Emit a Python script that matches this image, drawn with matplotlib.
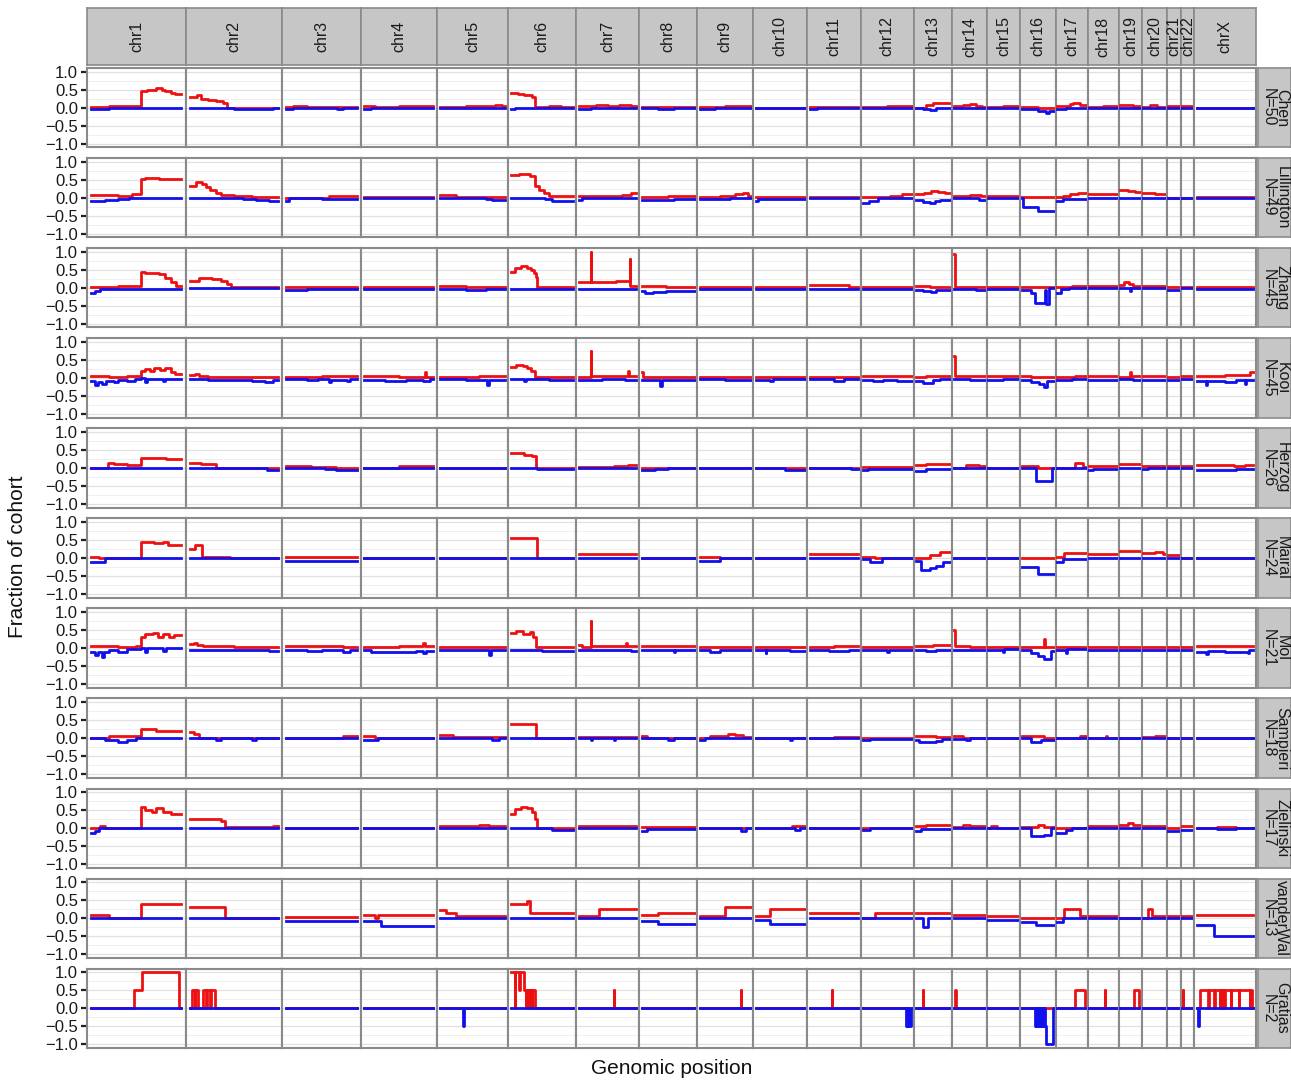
import matplotlib
matplotlib.use("Agg")
import matplotlib.pyplot as plt
from matplotlib.gridspec import GridSpec

plt.rcParams['font.family'] = ['Liberation Sans', 'DejaVu Sans']

# ---------------- data ----------------
CHROMS = ["chr1", "chr2", "chr3", "chr4", "chr5", "chr6", "chr7", "chr8", "chr9", "chr10",
          "chr11", "chr12", "chr13", "chr14", "chr15", "chr16", "chr17", "chr18", "chr19",
          "chr20", "chr21", "chr22", "chrX"]
# covered span of each chromosome (Mb) -> panel widths
CHROM_SPAN_MB = [249, 243, 198, 191, 181, 171, 159, 146, 141, 136, 135, 134, 96, 88, 83, 90,
                 81, 78, 59, 63, 34, 35, 155]

COHORTS = ["Chen", "Lillington", "Zhang", "Kooi", "Herzog", "Mairal", "Mol", "Sampieri",
           "Zielinski", "vanderWal", "Gratias"]
COHORT_N = [50, 49, 45, 45, 26, 24, 21, 18, 17, 13, 2]

# steps: (relative position within chromosome, fraction of cohort) ; unlisted chromosomes are 0
chen_gain = {
    "chr1": [(0, .03), (.2, .05), (.3, .04), (.55, .45), (.62, .5), (.72, .55), (.78, .5), (.82, .45), (.88, .4), (.93, .38)],
    "chr2": [(0, .3), (.08, .35), (.12, .25), (.2, .22), (.3, .18), (.38, .13), (.42, 0)],
    "chr3": [(0, .03), (.1, .06), (.3, .02), (.6, .03)],
    "chr4": [(0, .05), (.15, .03), (.5, .04), (.8, .05)],
    "chr5": [(0, .02), (.4, .04), (.7, .05), (.85, .08), (.95, .04)],
    "chr6": [(0, .42), (.1, .38), (.2, .35), (.33, .3), (.38, .02), (.6, .04), (.8, .03)],
    "chr7": [(0, .04), (.3, .07), (.5, .06), (.7, .08), (.9, .05)],
    "chr8": [(0, .01)],
    "chr9": [(0, .02), (.5, .04)],
    "chr11": [(0, .01), (.4, .03)],
    "chr12": [(0, .02), (.5, .04), (.8, .05)],
    "chr13": [(0, 0), (.3, .07), (.5, .12), (.8, .14)],
    "chr14": [(0, .04), (.3, .07), (.5, .09), (.7, .06), (.9, .03)],
    "chr15": [(0, .02), (.5, .04)],
    "chr16": [(0, .03), (.5, 0)],
    "chr17": [(0, .05), (.45, .1), (.55, .13), (.8, .07)],
    "chr18": [(0, .03), (.5, .04)],
    "chr19": [(0, .07), (.6, .05)],
    "chr20": [(0, .03), (.3, .07), (.6, .03)],
    "chr21": [(0, .04)],
    "chr22": [(0, .05)],
}
chen_loss = {
    "chr1": [(0, -.05), (.2, 0)],
    "chr2": [(0, 0), (.5, -.03), (.95, 0)],
    "chr3": [(0, -.03), (.1, 0), (.72, -.03), (.8, 0)],
    "chr4": [(0, -.03), (.1, 0)],
    "chr6": [(0, -.03), (.05, 0)],
    "chr7": [(0, -.03), (.2, 0)],
    "chr8": [(0, 0), (.3, -.03), (.6, 0)],
    "chr9": [(0, -.03), (.3, -.01)],
    "chr10": [(0, -.01)],
    "chr11": [(0, -.04), (.15, -.02)],
    "chr13": [(0, 0), (.2, -.05), (.4, -.07), (.6, -.02)],
    "chr16": [(0, -.03), (.5, -.08), (.75, -.14), (.85, -.08)],
    "chr17": [(0, -.05), (.3, 0)],
}

lillington_gain = {
    "chr1": [(0, .07), (.3, .06), (.45, .09), (.55, .52), (.6, .55), (.75, .53), (.85, .51)],
    "chr2": [(0, .33), (.07, .43), (.13, .38), (.18, .3), (.23, .22), (.3, .14), (.35, .08), (.5, .04), (.7, .03)],
    "chr3": [(0, 0), (.6, .04)],
    "chr4": [(0, .02), (.7, .03)],
    "chr5": [(0, .07), (.25, .03)],
    "chr6": [(0, .62), (.12, .66), (.3, .6), (.38, .32), (.45, .22), (.52, .12), (.6, .06), (.8, .04)],
    "chr7": [(0, .05), (.5, .06), (.75, .08), (.9, .12)],
    "chr8": [(0, .02), (.5, .04)],
    "chr9": [(0, .03), (.4, .05), (.7, .09), (.85, .13), (.95, .05)],
    "chr10": [(0, .02)],
    "chr11": [(0, .02)],
    "chr12": [(0, .02), (.55, .06), (.8, .1)],
    "chr13": [(0, .1), (.25, .14), (.45, .2), (.65, .17), (.85, .12)],
    "chr14": [(0, .05), (.5, .07), (.85, .05)],
    "chr15": [(0, .04), (.5, .05)],
    "chr16": [(0, .03), (.5, .02)],
    "chr17": [(0, .02), (.2, .06), (.45, .09), (.7, .12)],
    "chr18": [(0, .1)],
    "chr19": [(0, .22), (.4, .2), (.7, .15)],
    "chr20": [(0, .14), (.5, .1)],
    "chrX": [(0, .02)],
}
lillington_loss = {
    "chr1": [(0, -.1), (.15, -.07), (.3, -.03), (.42, 0)],
    "chr2": [(0, 0), (.6, -.04), (.75, -.07), (.85, -.05), (.9, -.08)],
    "chr3": [(0, -.08), (.05, -.02), (.5, -.04)],
    "chr4": [(0, -.02)],
    "chr5": [(0, 0), (.7, -.03), (.8, -.07)],
    "chr6": [(0, 0), (.55, -.04), (.65, -.08), (.75, -.1)],
    "chr7": [(0, -.07), (.05, -.02)],
    "chr8": [(0, -.05), (.6, -.03)],
    "chr9": [(0, -.04), (.6, -.02)],
    "chr10": [(0, -.08), (.05, -.03)],
    "chr11": [(0, -.02)],
    "chr12": [(0, -.15), (.12, -.08), (.3, -.02)],
    "chr13": [(0, -.05), (.2, -.12), (.4, -.15), (.55, -.1), (.7, -.05)],
    "chr14": [(0, -.02), (.8, -.07)],
    "chr16": [(0, 0), (.05, -.25), (.5, -.38)],
    "chr17": [(0, -.08), (.2, -.03)],
    "chrX": [(0, -.02)],
}

zhang_gain = {
    "chr1": [(0, .02), (.3, .04), (.55, .45), (.6, .4), (.75, .37), (.82, .28), (.88, .15), (.94, .06)],
    "chr2": [(0, .2), (.1, .27), (.25, .24), (.35, .2), (.42, .1), (.47, .02)],
    "chr3": [(0, .02)],
    "chr4": [(0, .01)],
    "chr5": [(0, .05), (.4, .03)],
    "chr6": [(0, .45), (.05, .55), (.15, .6), (.25, .55), (.32, .5), (.37, .42), (.4, .3), (.42, .02)],
    "chr7": [(0, .15), (.2, 1.0), (.215, .15), (.5, .16), (.65, .18), (.88, .8), (.895, .05)],
    "chr8": [(0, .05), (.45, .03)],
    "chr9": [(0, .02)],
    "chr10": [(0, .02)],
    "chr11": [(0, .07), (.3, .08), (.8, .03)],
    "chr12": [(0, .02)],
    "chr13": [(0, .05), (.4, .02)],
    "chr14": [(0, .95), (.03, .03)],
    "chr15": [(0, .02)],
    "chr16": [(0, .02)],
    "chr17": [(0, .02), (.5, .05)],
    "chr18": [(0, .05)],
    "chr19": [(0, .08), (.2, .15), (.45, .1), (.6, .04)],
    "chr20": [(0, .05)],
    "chr21": [(0, .02)],
    "chr22": [(0, .03)],
    "chrX": [(0, .02)],
}
zhang_loss = {
    "chr1": [(0, -.15), (.04, -.08), (.1, -.02)],
    "chr2": [(0, -.01)],
    "chr3": [(0, -.05), (.3, -.03), (.6, -.04)],
    "chr4": [(0, -.02)],
    "chr5": [(0, -.02), (.4, -.05), (.7, -.02)],
    "chr6": [(0, -.02), (.5, -.03)],
    "chr7": [(0, -.02)],
    "chr8": [(0, -.1), (.05, -.15), (.2, -.12), (.45, -.08)],
    "chr9": [(0, -.03)],
    "chr10": [(0, -.03)],
    "chr11": [(0, -.02)],
    "chr12": [(0, -.04)],
    "chr13": [(0, -.05), (.2, -.1), (.45, -.12), (.6, -.07)],
    "chr14": [(0, -.03), (.7, -.05)],
    "chr15": [(0, -.02)],
    "chr16": [(0, -.06), (.3, -.15), (.42, -.42), (.72, -.05), (.75, -.45), (.85, 0)],
    "chr17": [(0, -.15), (.15, -.04), (.4, 0)],
    "chr19": [(0, 0), (.5, -.08), (.52, 0)],
    "chr21": [(0, -.05)],
    "chrX": [(0, -.02)],
}

kooi_gain = {
    "chr1": [(0, .05), (.2, .03), (.4, .06), (.55, .18), (.6, .25), (.65, .2), (.7, .28), (.76, .22), (.82, .26), (.88, .15), (.93, .1)],
    "chr2": [(0, .08), (.06, .12), (.1, .05), (.2, .03)],
    "chr3": [(0, .03), (.5, .04)],
    "chr4": [(0, .04), (.5, .03), (.88, .15), (.9, .03)],
    "chr5": [(0, .03), (.6, .05)],
    "chr6": [(0, .3), (.08, .37), (.18, .32), (.25, .28), (.32, .18), (.38, .03)],
    "chr7": [(0, .03), (.2, .75), (.215, .04), (.6, .06), (.85, .2), (.865, .05)],
    "chr8": [(0, .15), (.02, .03)],
    "chr9": [(0, .03)],
    "chr10": [(0, .03)],
    "chr11": [(0, .03)],
    "chr12": [(0, .04), (.5, .06)],
    "chr13": [(0, .03), (.3, .06)],
    "chr14": [(0, .6), (.03, .06), (.5, .04)],
    "chr15": [(0, .05)],
    "chr16": [(0, .05), (.3, .02)],
    "chr17": [(0, .03), (.6, .06)],
    "chr18": [(0, .04)],
    "chr19": [(0, .03), (.5, .15), (.53, .04)],
    "chr20": [(0, .04)],
    "chr21": [(0, .03)],
    "chr22": [(0, .04)],
    "chrX": [(0, .05), (.5, .07), (.95, .15)],
}
kooi_loss = {
    "chr1": [(0, -.1), (.04, -.2), (.07, -.12), (.12, -.17), (.16, -.08), (.25, -.12), (.3, -.06), (.4, -.1), (.48, -.04), (.55, 0), (.6, -.12), (.62, -.02), (.8, -.08), (.82, -.02)],
    "chr2": [(0, -.04), (.2, -.06), (.5, -.05), (.7, -.08), (.85, -.12), (.95, -.06)],
    "chr3": [(0, -.04), (.3, -.07), (.45, -.04), (.6, -.12), (.63, -.05), (.85, -.1), (.9, -.04)],
    "chr4": [(0, -.05), (.3, -.08), (.6, -.05), (.85, -.1), (.95, -.04)],
    "chr5": [(0, -.04), (.4, -.06), (.72, -.2), (.75, -.05)],
    "chr6": [(0, -.02), (.2, -.1), (.23, -.03), (.6, -.05)],
    "chr7": [(0, -.06), (.4, -.03), (.8, -.05)],
    "chr8": [(0, -.05), (.35, -.22), (.38, -.05)],
    "chr9": [(0, -.03), (.5, -.06)],
    "chr10": [(0, -.05), (.3, -.09), (.35, -.04)],
    "chr11": [(0, -.04), (.5, -.08), (.7, -.03)],
    "chr12": [(0, -.05), (.2, -.1), (.4, -.06), (.7, -.09)],
    "chr13": [(0, -.1), (.2, -.13), (.5, -.07), (.7, -.04)],
    "chr14": [(0, -.03), (.5, -.05)],
    "chr15": [(0, -.05), (.5, -.03)],
    "chr16": [(0, -.05), (.3, -.12), (.55, -.18), (.7, -.26), (.8, -.1)],
    "chr17": [(0, -.06), (.5, -.04)],
    "chr18": [(0, -.05)],
    "chr19": [(0, -.04), (.6, -.07)],
    "chr20": [(0, -.05)],
    "chr21": [(0, -.06)],
    "chr22": [(0, -.04)],
    "chrX": [(0, -.1), (.15, -.2), (.18, -.08), (.5, -.12), (.7, -.05), (.85, -.18), (.87, -.05)],
}

herzog_gain = {
    "chr1": [(0, 0), (.18, .15), (.25, .1), (.4, .08), (.55, .28), (.83, .25)],
    "chr2": [(0, .15), (.12, .12), (.3, 0)],
    "chr3": [(0, .06), (.35, .03), (.7, 0)],
    "chr4": [(0, 0), (.5, .04)],
    "chr5": [(0, .01)],
    "chr6": [(0, .42), (.2, .37), (.33, .32), (.4, 0)],
    "chr7": [(0, .03), (.6, .06), (.85, .07)],
    "chr8": [(0, 0), (.4, .01)],
    "chr12": [(0, .02)],
    "chr13": [(0, .08), (.3, .11), (.9, .1)],
    "chr14": [(0, 0), (.4, .07), (.8, .04)],
    "chr16": [(0, .06), (.5, 0)],
    "chr17": [(0, 0), (.6, .15), (.9, .02)],
    "chr18": [(0, .05)],
    "chr19": [(0, .12)],
    "chr20": [(0, .05)],
    "chr21": [(0, .05)],
    "chr22": [(0, .06)],
    "chrX": [(0, .08), (.65, .04), (.85, .07)],
}
herzog_loss = {
    "chr2": [(0, 0), (.88, -.05)],
    "chr3": [(0, 0), (.55, -.03), (.7, -.06)],
    "chr6": [(0, 0), (.42, -.03)],
    "chr8": [(0, -.06), (.25, -.02), (.5, 0)],
    "chr10": [(0, 0), (.6, -.06)],
    "chr11": [(0, 0), (.85, -.04)],
    "chr12": [(0, -.06), (.1, -.02)],
    "chr13": [(0, -.08), (.3, -.04), (.6, -.02)],
    "chr16": [(0, 0), (.45, -.37), (.95, 0)],
    "chr18": [(0, -.07), (.15, -.02)],
    "chr20": [(0, -.04), (.2, 0)],
    "chrX": [(0, -.06), (.7, -.04), (.9, -.02)],
}

mairal_gain = {
    "chr1": [(0, .02), (.08, 0), (.55, .45), (.7, .42), (.8, .45), (.85, .37)],
    "chr2": [(0, .24), (.05, .35), (.14, .03), (.45, 0)],
    "chr3": [(0, .02)],
    "chr6": [(0, .55), (.42, 0)],
    "chr7": [(0, .12)],
    "chr9": [(0, .03), (.4, 0)],
    "chr11": [(0, .12)],
    "chr12": [(0, .03), (.25, 0)],
    "chr13": [(0, 0), (.4, .08), (.7, .18)],
    "chr17": [(0, .03), (.25, .13)],
    "chr18": [(0, .1)],
    "chr19": [(0, .2)],
    "chr20": [(0, .15), (.5, .17), (.85, .12)],
    "chr21": [(0, .07)],
}
mairal_loss = {
    "chr1": [(0, -.12), (.15, 0)],
    "chr3": [(0, -.07)],
    "chr9": [(0, -.07), (.4, 0)],
    "chr12": [(0, -.04), (.15, -.12), (.38, 0)],
    "chr13": [(0, -.08), (.15, -.33), (.4, -.28), (.6, -.22), (.8, -.12)],
    "chr16": [(0, -.25), (.5, -.45)],
    "chr17": [(0, -.1), (.2, -.02)],
}

mol_gain = {
    "chr1": [(0, .05), (.3, .03), (.5, .06), (.55, .3), (.6, .38), (.68, .42), (.74, .3), (.8, .38), (.86, .3), (.92, .35)],
    "chr2": [(0, .1), (.04, .15), (.08, .08), (.15, .05), (.5, .04)],
    "chr3": [(0, .05), (.4, .07), (.8, .04)],
    "chr4": [(0, .04), (.5, .06), (.85, .15), (.88, .05)],
    "chr5": [(0, .03), (.3, .04)],
    "chr6": [(0, .42), (.08, .48), (.18, .4), (.3, .45), (.35, .3), (.4, .04)],
    "chr7": [(0, .08), (.05, .04), (.2, .75), (.215, .05), (.6, .07), (.82, .15), (.84, .06)],
    "chr8": [(0, .05)],
    "chr9": [(0, .04)],
    "chr10": [(0, .03)],
    "chr11": [(0, .04), (.5, .06)],
    "chr12": [(0, .03)],
    "chr13": [(0, .05), (.5, .08)],
    "chr14": [(0, .5), (.03, .06), (.5, .03)],
    "chr15": [(0, .04)],
    "chr16": [(0, .04), (.7, .25), (.72, .03)],
    "chr17": [(0, .04)],
    "chr18": [(0, .03)],
    "chr19": [(0, .04)],
    "chr20": [(0, .03)],
    "chr21": [(0, .02)],
    "chr22": [(0, .03)],
    "chrX": [(0, .05), (.5, .07)],
}
mol_loss = {
    "chr1": [(0, -.1), (.04, -.18), (.07, -.1), (.12, -.25), (.14, -.1), (.2, -.06), (.3, -.1), (.4, -.03), (.55, 0), (.6, -.1), (.62, 0), (.8, -.07), (.83, 0)],
    "chr2": [(0, -.04), (.4, -.06), (.7, -.04), (.9, -.07)],
    "chr3": [(0, -.06), (.3, -.09), (.5, -.05), (.8, -.1), (.9, -.06)],
    "chr4": [(0, -.05), (.1, -.1), (.5, -.12), (.75, -.08), (.85, -.15), (.9, -.08)],
    "chr5": [(0, -.04), (.75, -.2), (.78, -.05)],
    "chr6": [(0, -.04), (.5, -.07)],
    "chr7": [(0, -.05), (.5, -.04), (.9, -.08)],
    "chr8": [(0, -.05), (.6, -.12), (.62, -.04)],
    "chr9": [(0, -.05), (.2, -.1), (.4, -.06)],
    "chr10": [(0, -.06), (.2, -.15), (.22, -.04), (.7, -.08)],
    "chr11": [(0, -.05), (.4, -.08), (.8, -.04)],
    "chr12": [(0, -.06), (.5, -.1), (.53, -.05)],
    "chr13": [(0, -.05), (.3, -.07), (.6, -.05)],
    "chr14": [(0, -.04), (.2, -.05)],
    "chr15": [(0, -.04), (.5, -.12), (.52, -.03)],
    "chr16": [(0, -.06), (.3, -.15), (.5, -.22), (.7, -.3), (.9, -.08)],
    "chr17": [(0, -.04), (.3, -.15), (.33, -.03)],
    "chr18": [(0, -.05)],
    "chr19": [(0, -.04)],
    "chr20": [(0, -.05)],
    "chr21": [(0, -.06)],
    "chr22": [(0, -.05)],
    "chrX": [(0, -.1), (.15, -.16), (.2, -.08), (.5, -.1), (.9, -.15), (.93, -.05)],
}

sampieri_gain = {
    "chr1": [(0, 0), (.2, .07), (.55, .25), (.72, .2)],
    "chr2": [(0, .18), (.04, .12), (.1, 0)],
    "chr3": [(0, 0), (.8, .06)],
    "chr4": [(0, .05), (.15, 0)],
    "chr5": [(0, .08), (.2, .02)],
    "chr6": [(0, .4), (.4, 0)],
    "chr7": [(0, .03)],
    "chr8": [(0, .05), (.1, .01)],
    "chr9": [(0, 0), (.2, .05), (.55, .12), (.7, .08), (.85, .03)],
    "chr11": [(0, 0), (.5, .04)],
    "chr13": [(0, .05), (.3, .07), (.6, .04)],
    "chr14": [(0, .06), (.3, 0)],
    "chr16": [(0, .06), (.7, 0)],
    "chr17": [(0, 0), (.8, .05)],
    "chr18": [(0, 0), (.6, .06), (.65, 0)],
    "chr20": [(0, .03), (.5, .07)],
}
sampieri_loss = {
    "chr1": [(0, 0), (.15, -.04), (.3, -.12), (.4, -.04), (.5, 0)],
    "chr2": [(0, 0), (.3, -.05), (.35, 0), (.7, -.05), (.75, 0)],
    "chr4": [(0, -.06), (.2, 0)],
    "chr5": [(0, 0), (.8, -.05), (.9, 0)],
    "chr7": [(0, -.01), (.2, -.05), (.22, 0), (.6, -.05), (.62, 0)],
    "chr8": [(0, 0), (.5, -.05), (.6, 0)],
    "chr9": [(0, -.05), (.1, 0)],
    "chr10": [(0, 0), (.7, -.05), (.73, 0)],
    "chr12": [(0, -.06), (.15, -.02)],
    "chr13": [(0, -.05), (.1, -.12), (.6, -.08), (.75, -.02)],
    "chr14": [(0, -.03), (.4, -.06), (.5, 0)],
    "chr16": [(0, 0), (.3, -.12), (.6, -.05)],
}

zielinski_gain = {
    "chr1": [(0, 0), (.1, .05), (.15, 0), (.55, .6), (.6, .5), (.67, .45), (.72, .55), (.8, .45), (.88, .4)],
    "chr2": [(0, .25), (.35, .2), (.4, .02), (.95, .07)],
    "chr5": [(0, .05), (.6, .08), (.75, .05)],
    "chr6": [(0, .4), (.05, .52), (.15, .6), (.25, .55), (.33, .45), (.38, .25), (.42, 0)],
    "chr7": [(0, .05)],
    "chr8": [(0, .03)],
    "chr10": [(0, 0), (.75, .05)],
    "chr13": [(0, .05), (.3, .1)],
    "chr14": [(0, .03), (.3, .1), (.5, .05)],
    "chr15": [(0, 0), (.1, .05), (.3, 0)],
    "chr16": [(0, .04), (.5, .1), (.7, .03)],
    "chr18": [(0, .05), (.5, .07)],
    "chr19": [(0, .1), (.4, .15), (.6, .1)],
    "chr20": [(0, .05)],
    "chr22": [(0, .05)],
    "chrX": [(0, 0), (.35, .03), (.7, 0)],
}
zielinski_loss = {
    "chr1": [(0, -.12), (.04, -.07), (.08, 0)],
    "chr6": [(0, 0), (.65, -.05)],
    "chr8": [(0, -.08), (.1, -.03)],
    "chr9": [(0, 0), (.8, -.07), (.9, 0)],
    "chr10": [(0, 0), (.8, -.06), (.9, 0)],
    "chr12": [(0, -.05), (.15, 0)],
    "chr13": [(0, -.07), (.15, -.02)],
    "chr16": [(0, 0), (.3, -.22), (.7, -.18), (.9, 0)],
    "chr17": [(0, -.12), (.3, -.04), (.5, 0)],
    "chr21": [(0, -.07)],
    "chr22": [(0, -.05)],
    "chrX": [(0, 0), (.35, -.03), (.7, 0)],
}

vanderwal_gain = {
    "chr1": [(0, .1), (.2, 0), (.55, .4)],
    "chr2": [(0, .32), (.4, 0)],
    "chr3": [(0, .03)],
    "chr4": [(0, .1), (.15, 0), (.2, .1)],
    "chr5": [(0, .22), (.1, .15), (.25, .07)],
    "chr6": [(0, .4), (.25, .48), (.3, .15)],
    "chr7": [(0, .05), (.35, .25)],
    "chr8": [(0, .1), (.3, .15)],
    "chr9": [(0, .05), (.5, .32)],
    "chr10": [(0, .05), (.3, .25)],
    "chr11": [(0, .15)],
    "chr12": [(0, 0), (.25, .15)],
    "chr13": [(0, .15)],
    "chr14": [(0, .08)],
    "chr15": [(0, .05)],
    "chr17": [(0, 0), (.25, .25), (.8, .07)],
    "chr18": [(0, .07)],
    "chr20": [(0, 0), (.2, .25), (.4, .07)],
    "chr21": [(0, .07)],
    "chr22": [(0, .05)],
    "chrX": [(0, .1)],
}
vanderwal_loss = {
    "chr3": [(0, -.07)],
    "chr4": [(0, -.07), (.25, -.22)],
    "chr8": [(0, -.07), (.3, -.15)],
    "chr10": [(0, -.05), (.3, -.15)],
    "chr13": [(0, 0), (.2, -.25), (.35, 0)],
    "chr15": [(0, -.05)],
    "chr16": [(0, -.1), (.45, -.2)],
    "chr17": [(0, -.1), (.2, 0)],
    "chrX": [(0, -.2), (.3, -.5)],
}

gratias_gain = {
    "chr1": [(0, 0), (.47, .5), (.56, 1.0), (.97, 0)],
    "chr2": [(0, 0), (.02, .5), (.05, 0), (.06, .5), (.09, 0), (.15, .5), (.18, 0), (.19, .5), (.23, 0), (.24, .5), (.28, 0)],
    "chr6": [(0, 1.0), (.05, 0), (.06, 1.0), (.12, .5), (.14, 1.0), (.2, .5), (.23, 0), (.24, .5), (.28, 0), (.29, .5), (.33, 0), (.34, .5), (.38, 0)],
    "chr7": [(0, 0), (.6, .5), (.61, 0)],
    "chr9": [(0, 0), (.8, .5), (.81, 0)],
    "chr11": [(0, 0), (.45, .5), (.46, 0)],
    "chr13": [(0, 0), (.2, .5), (.22, 0)],
    "chr14": [(0, 0), (.05, .5), (.07, 0)],
    "chr17": [(0, 0), (.62, .5), (.95, 0)],
    "chr18": [(0, 0), (.55, .5), (.57, 0)],
    "chr19": [(0, 0), (.65, .5), (.9, 0)],
    "chr22": [(0, 0), (.1, .5), (.13, 0)],
    "chrX": [(0, 0), (.05, .5), (.2, 0), (.21, .5), (.3, 0), (.31, .5), (.4, 0), (.41, .5), (.44, 0),
             (.45, .5), (.48, 0), (.49, .5), (.6, 0), (.61, .5), (.74, 0), (.75, .5), (.94, 0), (.95, .5), (.98, 0)],
}
gratias_loss = {
    "chr5": [(0, 0), (.35, -.5), (.365, 0)],
    "chr12": [(0, 0), (.88, -.5), (.9, 0), (.91, -.5), (.93, 0), (.94, -.5), (.98, 0)],
    "chr16": [(0, 0), (.42, -.5), (.45, 0), (.46, -.5), (.5, 0), (.51, -.5), (.55, 0), (.56, -.5), (.6, 0),
              (.61, -.5), (.65, 0), (.66, -.5), (.7, 0), (.71, -.5), (.74, -1.0), (.96, 0)],
    "chrX": [(0, 0), (.02, -.5), (.035, 0)],
}

GAINS = [chen_gain, lillington_gain, zhang_gain, kooi_gain, herzog_gain, mairal_gain, mol_gain,
         sampieri_gain, zielinski_gain, vanderwal_gain, gratias_gain]
LOSSES = [chen_loss, lillington_loss, zhang_loss, kooi_loss, herzog_loss, mairal_loss, mol_loss,
          sampieri_loss, zielinski_loss, vanderwal_loss, gratias_loss]

# ---------------- style ----------------
RED = "#ee1010"
BLUE = "#1010ee"
BORDER = "#8a8a8a"
STRIP = "#c6c6c6"
W, H = 1291, 1080

fig = plt.figure(figsize=(W / 100, H / 100), dpi=100)
left, right = 87 / W, 1256 / W
top, bottom = 1 - 68 / H, 1 - 1048 / H
gs = GridSpec(len(COHORTS), len(CHROMS), figure=fig, left=left, right=right, top=top, bottom=bottom,
              wspace=0, hspace=0.135, width_ratios=CHROM_SPAN_MB)


def steps_xy(steps):
    xs = [p for p, _ in steps] + [1.0]
    ys = [v for _, v in steps] + [steps[-1][1]]
    return xs, ys


axes = {}
for r, cohort in enumerate(COHORTS):
    for c, chrom in enumerate(CHROMS):
        ax = fig.add_subplot(gs[r, c])
        axes[(r, c)] = ax
        ax.set_xlim(-0.05, 1.05)
        ax.set_ylim(-1.1, 1.1)
        ax.set_yticks([-1, -0.5, 0, 0.5, 1])
        ax.set_yticks([-0.75, -0.25, 0.25, 0.75], minor=True)
        ax.grid(True, which="major", axis="y", color="#e0e0e0", lw=0.9, zorder=0)
        ax.grid(True, which="minor", axis="y", color="#efefef", lw=0.7, zorder=0)
        ax.set_xticks([])
        for s in ax.spines.values():
            s.set_color(BORDER)
            s.set_linewidth(1.5)
        g = GAINS[r].get(chrom, [(0, 0)])
        l = LOSSES[r].get(chrom, [(0, 0)])
        gx, gy = steps_xy(g)
        lx, ly = steps_xy(l)
        ax.step(gx, gy, where="post", color=RED, lw=2.0, zorder=3)
        ax.step(lx, ly, where="post", color=BLUE, lw=2.0, zorder=4)
        if c == 0:
            ax.set_yticklabels(["\u22121.0", "\u22120.5", "0.0", "0.5", "1.0"], fontsize=12, color="#1a1a1a")
            ax.tick_params(axis="y", which="major", length=4.5, width=1.6, color="#222222", pad=2)
            ax.tick_params(axis="y", which="minor", length=0)
        else:
            ax.tick_params(axis="y", which="both", length=0, labelleft=False)

fig.canvas.draw()

# top strips
strip_top, strip_bot = 1 - 8 / H, 1 - 65 / H
for c, chrom in enumerate(CHROMS):
    pos = axes[(0, c)].get_position()
    sax = fig.add_axes([pos.x0, strip_bot, pos.width, strip_top - strip_bot])
    sax.set_facecolor(STRIP)
    sax.set_xticks([]); sax.set_yticks([])
    for s in sax.spines.values():
        s.set_color(BORDER); s.set_linewidth(1.2)
    sax.text(0.5, 0.5, chrom, rotation=90, ha="center", va="center", fontsize=11.5,
             color="#1a1a1a", transform=sax.transAxes)

# right strips
rs_left, rs_right = 1258 / W, 1291 / W
for r, cohort in enumerate(COHORTS):
    pos = axes[(r, len(CHROMS) - 1)].get_position()
    sax = fig.add_axes([rs_left, pos.y0, rs_right - rs_left, pos.height])
    sax.set_facecolor(STRIP)
    sax.set_xticks([]); sax.set_yticks([])
    for s in sax.spines.values():
        s.set_color(BORDER); s.set_linewidth(1.2)
    sax.text(0.52, 0.5, f"{cohort}\nN={COHORT_N[r]}", rotation=-90, ha="center", va="center",
             fontsize=11.5, color="#1a1a1a", linespacing=0.85, transform=sax.transAxes, clip_on=False)

fig.text(18 / W, 1 - 557 / H, "Fraction of cohort", rotation=90, ha="center", va="center",
         fontsize=15, color="#111111")
fig.text(672 / W, 1 - 1069 / H, "Genomic position", ha="center", va="center",
         fontsize=15, color="#111111")

fig.savefig("out.png", dpi=100)
